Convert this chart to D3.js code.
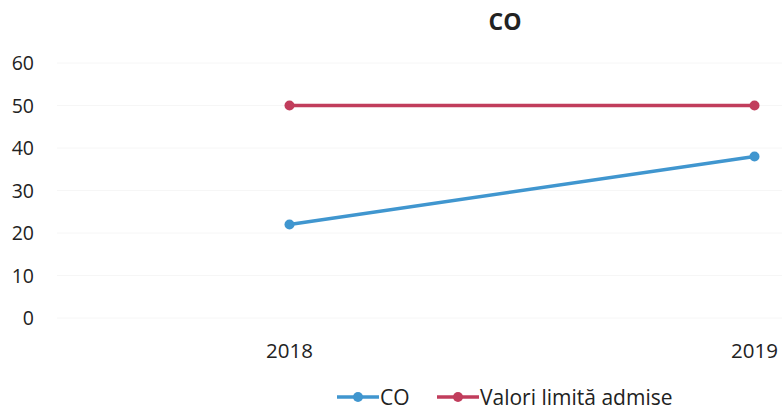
<!DOCTYPE html>
<html>
<head>
    <meta charset="UTF-8">
    <script src="https://d3js.org/d3.v7.min.js"></script>
    <style>
        body { margin: 0; background: #fff; }
        text { font-family: "Open Sans", Lato, sans-serif; fill: #222; }
    </style>
</head>
<body>
    <div id="chart"></div>
    <script>
        // data
        var years = ["2018", "2019"];
        var coValues = [22, 38];
        var limitValues = [50, 50];
        var yTicks = [0, 10, 20, 30, 40, 50, 60];
        var seriesNames = ["CO", "Valori limită admise"];
        var seriesColors = ["#4096cf", "#c13d5c"];

        var width = 782, height = 412;

        var svg = d3.select("#chart")
            .append("svg")
            .attr("width", width)
            .attr("height", height);

        // plot area goes past the right edge (the scan is cropped)
        var x = d3.scaleBand()
            .domain(years)
            .range([57, 987]);

        var y = d3.scaleLinear()
            .domain([0, 60])
            .range([318, 63]);

        // faint gridlines
        svg.selectAll(".grid")
            .data(yTicks)
            .enter()
            .append("line")
            .attr("x1", 57)
            .attr("x2", width)
            .attr("y1", function (d) { return y(d); })
            .attr("y2", function (d) { return y(d); })
            .attr("stroke", "#f6f6f6")
            .attr("stroke-width", 1);

        // y labels
        svg.selectAll(".ylab")
            .data(yTicks)
            .enter()
            .append("text")
            .attr("x", 34)
            .attr("y", function (d) { return y(d); })
            .attr("dy", "0.36em")
            .attr("text-anchor", "end")
            .style("font-size", "19.5px")
            .text(function (d) { return d; });

        // x labels
        svg.selectAll(".xlab")
            .data(years)
            .enter()
            .append("text")
            .attr("x", function (d) { return x(d) + x.bandwidth() / 2; })
            .attr("y", 351)
            .attr("dy", "0.36em")
            .attr("text-anchor", "middle")
            .style("font-size", "20.5px")
            .text(function (d) { return d; });

        // title
        svg.append("text")
            .attr("x", 505)
            .attr("y", 22)
            .attr("dy", "0.36em")
            .attr("text-anchor", "middle")
            .style("font-size", "23px")
            .style("font-weight", "bold")
            .text("CO");

        var series = [coValues, limitValues];
        var line = d3.line()
            .x(function (d, i) { return x(years[i]) + x.bandwidth() / 2; })
            .y(function (d) { return y(d); });

        series.forEach(function (vals, s) {
            svg.append("path")
                .datum(vals)
                .attr("d", line)
                .attr("fill", "none")
                .attr("stroke", seriesColors[s])
                .attr("stroke-width", 3.5);

            svg.selectAll(".pt" + s)
                .data(vals)
                .enter()
                .append("circle")
                .attr("cx", function (d, i) { return x(years[i]) + x.bandwidth() / 2; })
                .attr("cy", function (d) { return y(d); })
                .attr("r", 5)
                .attr("fill", seriesColors[s]);
        });

        // legend
        var legendX = [337, 437];
        var legend = svg.selectAll(".legend")
            .data(seriesNames)
            .enter()
            .append("g")
            .attr("transform", function (d, i) { return "translate(" + legendX[i] + ",397)"; });

        legend.append("line")
            .attr("x1", 0)
            .attr("x2", 42)
            .attr("stroke", function (d, i) { return seriesColors[i]; })
            .attr("stroke-width", 3.5);

        legend.append("circle")
            .attr("cx", 21)
            .attr("r", 5)
            .attr("fill", function (d, i) { return seriesColors[i]; });

        legend.append("text")
            .attr("x", 43)
            .attr("dy", "0.36em")
            .style("font-size", "21px")
            .text(function (d) { return d; });
    </script>
</body>
</html>
